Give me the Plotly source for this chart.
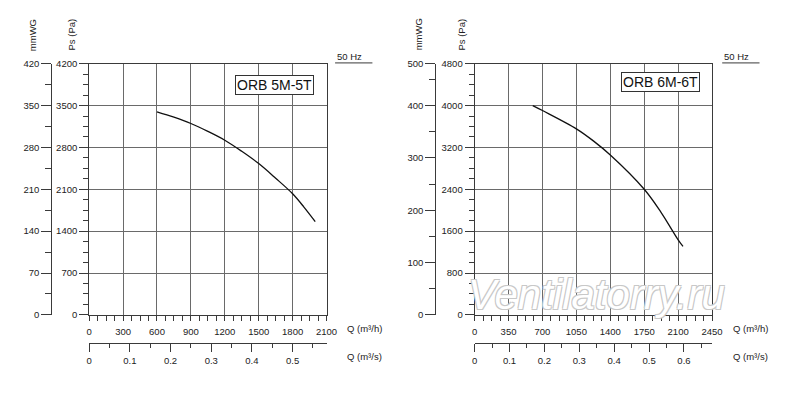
import plotly.graph_objects as go

W, H = 800, 405

# ---------------- data ----------------
q1_m3h = [600, 750, 900, 1050, 1200, 1350, 1500, 1650, 1800, 1900, 2000]
ps1_pa = [3395, 3305, 3200, 3068, 2920, 2735, 2530, 2285, 2025, 1803, 1560]
model1 = "ORB 5M-5T"
q1_max = 2100
pa1_max = 4200
pa1_dtick = 700
mm1_max = 420
mm1_dtick = 70
q1_dtick = 300

q2_m3h = [600, 700, 1050, 1225, 1400, 1750, 1925, 2100, 2150]
ps2_pa = [4000, 3905, 3555, 3325, 3055, 2400, 1955, 1435, 1310]
model2 = "ORB 6M-6T"
q2_max = 2450
pa2_max = 4800
pa2_dtick = 800
mm2_tickvals = [0, 100, 200, 300, 400, 480]
mm2_ticktext = ["0", "100", "200", "300", "400", "500"]
mm2_minor = [50, 150, 250, 350, 450]
q2_dtick = 350

freq_label = "50 Hz"
watermark = "Ventilatorry.ru"

FONT = "Arial, Liberation Sans, sans-serif"
FS = 9.5
AXC = "#3a3a3a"
GRIDC = "#6a6a6a"


def fx(px):
    return px / W


def fy(py):
    return 1 - py / H


Y_TOP, Y_BOT = 59.3, 317.5

fig = go.Figure()

fig.add_trace(go.Scatter(x=q1_m3h, y=ps1_pa, mode="lines", xaxis="x", yaxis="y",
                         line=dict(color="#111", width=1.3, shape="spline"),
                         showlegend=False, hoverinfo="skip"))
fig.add_trace(go.Scatter(x=[0], y=[0], mode="markers", xaxis="x2", yaxis="y2",
                         marker=dict(opacity=0), showlegend=False, hoverinfo="skip"))
fig.add_trace(go.Scatter(x=q2_m3h, y=ps2_pa, mode="lines", xaxis="x3", yaxis="y3",
                         line=dict(color="#111", width=1.3, shape="spline"),
                         showlegend=False, hoverinfo="skip"))
fig.add_trace(go.Scatter(x=[0], y=[0], mode="markers", xaxis="x4", yaxis="y4",
                         marker=dict(opacity=0), showlegend=False, hoverinfo="skip"))

tickfont = dict(family=FONT, size=FS, color="#222")


def main_x(x0, x1, qmax, dtick, anchor):
    return dict(domain=[fx(x0), fx(x1)], range=[0, qmax], anchor=anchor,
                showgrid=True, gridcolor=GRIDC, gridwidth=1, dtick=dtick, tick0=0,
                showline=True, linecolor=AXC, linewidth=1, mirror=True,
                ticks="outside", ticklen=5, tickcolor=AXC, tickfont=tickfont,
                minor=dict(dtick=dtick / 4, ticks="outside", ticklen=5, tickcolor=AXC, showgrid=False),
                zeroline=False, fixedrange=True, ticklabelstandoff=3)


def sec_x(overlay, qmax, posy):
    return dict(overlaying=overlay, anchor="free", position=fy(posy), side="bottom",
                range=[0, qmax / 3600], dtick=0.1, tick0=0, showgrid=False,
                showline=True, linecolor=AXC, linewidth=1,
                ticks="outside", ticklen=8, tickcolor=AXC, tickfont=tickfont,
                minor=dict(dtick=0.05, ticks="outside", ticklen=4, tickcolor=AXC, showgrid=False),
                zeroline=False, fixedrange=True, ticklabelstandoff=1)


def main_y(pmax, dtick, anchor):
    return dict(domain=[fy(Y_BOT), fy(Y_TOP)], range=[0, pmax], anchor=anchor,
                showgrid=True, gridcolor=GRIDC, gridwidth=1, dtick=dtick, tick0=0,
                showline=True, linecolor=AXC, linewidth=1, mirror=True,
                ticks="outside", ticklen=9, tickcolor=AXC, tickfont=tickfont,
                minor=dict(dtick=dtick / 4, ticks="outside", ticklen=5, tickcolor=AXC, showgrid=False),
                zeroline=False, fixedrange=True, ticklabelstandoff=0)


fig.update_layout(
    width=W, height=H, margin=dict(l=0, r=0, t=0, b=0, pad=0),
    paper_bgcolor="white", plot_bgcolor="white", showlegend=False,
    font=dict(family=FONT, size=FS, color="#222"),
    xaxis=main_x(87.7, 329.3, q1_max, q1_dtick, "y"),
    yaxis=main_y(pa1_max, pa1_dtick, "x"),
    xaxis2=sec_x("x", q1_max, 346),
    yaxis2=dict(overlaying="y", anchor="free", position=fx(49), side="left",
                range=[0, mm1_max], dtick=mm1_dtick, tick0=0, showgrid=False,
                showline=True, linecolor=AXC, linewidth=1,
                ticks="outside", ticklen=10, tickcolor=AXC, tickfont=tickfont,
                minor=dict(dtick=mm1_dtick / 2, ticks="outside", ticklen=6, tickcolor=AXC, showgrid=False),
                zeroline=False, fixedrange=True, ticklabelstandoff=0),
    xaxis3=main_x(480, 721.7, q2_max, q2_dtick, "y3"),
    yaxis3=main_y(pa2_max, pa2_dtick, "x3"),
    xaxis4=sec_x("x3", q2_max, 346),
    yaxis4=dict(overlaying="y3", anchor="free", position=fx(440), side="left",
                range=[0, pa2_max / 10], tickmode="array", tickvals=mm2_tickvals,
                ticktext=mm2_ticktext, showgrid=False,
                showline=True, linecolor=AXC, linewidth=1,
                ticks="outside", ticklen=10, tickcolor=AXC, tickfont=tickfont,
                minor=dict(tickmode="array", tickvals=mm2_minor, ticks="outside", ticklen=6,
                           tickcolor=AXC, showgrid=False),
                zeroline=False, fixedrange=True, ticklabelstandoff=0),
)

ann = []
shapes = []


def panel(xmm, xpa, xq, box_cx, box_cy, model, hz_x0, hz_x1):
    ann.append(dict(text="mmWG", x=fx(xmm), y=fy(48), xref="paper", yref="paper",
                    xanchor="center", yanchor="bottom", textangle=-90, showarrow=False,
                    font=dict(family=FONT, size=FS, color="#222")))
    ann.append(dict(text="Ps (Pa)", x=fx(xpa), y=fy(48), xref="paper", yref="paper",
                    xanchor="center", yanchor="bottom", textangle=-90, showarrow=False,
                    font=dict(family=FONT, size=FS, color="#222")))
    ann.append(dict(text="Q (m³/h)", x=fx(xq), y=fy(331.5), xref="paper", yref="paper",
                    xanchor="left", yanchor="middle", showarrow=False,
                    font=dict(family=FONT, size=FS, color="#222")))
    ann.append(dict(text="Q (m³/s)", x=fx(xq), y=fy(360), xref="paper", yref="paper",
                    xanchor="left", yanchor="middle", showarrow=False,
                    font=dict(family=FONT, size=FS, color="#222")))
    ann.append(dict(text=model, x=fx(box_cx), y=fy(box_cy), xref="paper", yref="paper",
                    xanchor="center", yanchor="middle", showarrow=False,
                    bgcolor="white", bordercolor="#333", borderwidth=1, borderpad=1,
                    font=dict(family=FONT, size=14, color="#111")))
    ann.append(dict(text=freq_label, x=fx(hz_x0), y=fy(52), xref="paper", yref="paper",
                    xanchor="left", yanchor="middle", showarrow=False,
                    font=dict(family=FONT, size=FS, color="#222")))
    shapes.append(dict(type="line", xref="paper", yref="paper",
                       x0=fx(hz_x0), x1=fx(hz_x1), y0=fy(58.5), y1=fy(58.5),
                       line=dict(color=AXC, width=1)))


panel(30, 70, 348, 276.8, 81.3, model1, 338, 376)
panel(423, 467, 741, 669.2, 78.3, model2, 732, 770)

sh = "1px 1px 0 #c8c8c8, -1px -1px 0 #c8c8c8, 1px -1px 0 #c8c8c8, -1px 1px 0 #c8c8c8"
ann.append(dict(text="<i>" + watermark + "</i>", x=fx(604), y=fy(297), xref="paper", yref="paper",
                xanchor="center", yanchor="middle", showarrow=False,
                font=dict(family=FONT, size=42, color="white", shadow=sh)))

fig.update_layout(annotations=ann, shapes=shapes)
fig.write_html(
    "out.html",
    config={"displayModeBar": False},
    post_script=(
        "document.body.style.margin='0';document.body.style.padding='0';"
        "document.body.style.overflow='hidden';"
    ),
)
